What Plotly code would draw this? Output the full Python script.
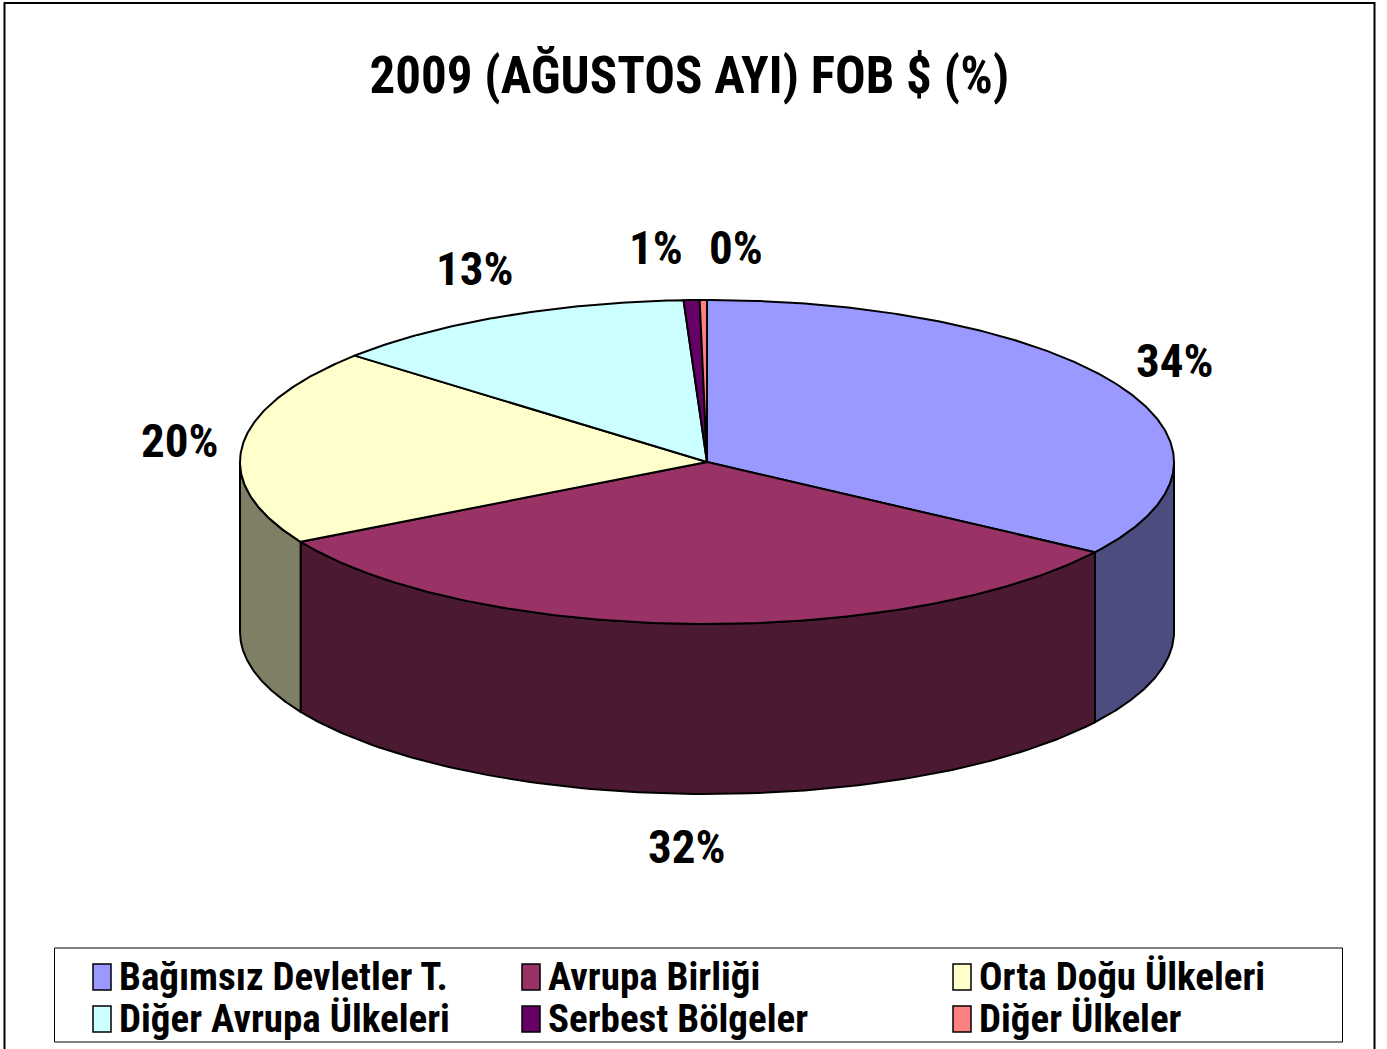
import numpy as np
import plotly.graph_objects as go

# ---------------- data ----------------
categories = ["Bağımsız Devletler T.", "Avrupa Birliği", "Orta Doğu Ülkeleri",
              "Diğer Avrupa Ülkeleri", "Serbest Bölgeler", "Diğer Ülkeler"]
shares = [34.4, 32.4, 19.6, 12.8, 0.55, 0.25]
top_colors = ["#9999FF", "#993366", "#FFFFCC", "#CCFFFF", "#660066", "#FF8080"]
title_text = "2009 (AĞUSTOS AYI) FOB $ (%)"

# ---------------- layout constants ----------------
W, H = 1387, 1049
CX, CY = 707, 462          # centre of the top face
RX, RY = 467, 162          # ellipse radii
DEPTH = 170                # thickness of the 3-D pie
LA, LB = 530, 215          # label ellipse
FONT = "Roboto Condensed, Liberation Sans Narrow, Arial Narrow, sans-serif"


def darken(hx, f=0.5):
    hx = hx.lstrip("#")
    r, g, b = (int(hx[i:i + 2], 16) for i in (0, 2, 4))
    return "#%02X%02X%02X" % (int(r * f), int(g * f), int(b * f))


def pt(theta_deg, dz=0.0):
    t = np.radians(theta_deg)
    return CX + RX * np.sin(t), CY - RY * np.cos(t) + dz


total = float(sum(shares))
fracs = [v / total for v in shares]
starts = np.concatenate([[0.0], np.cumsum(fracs)[:-1]]) * 360.0
ends = np.cumsum(fracs) * 360.0

fig = go.Figure()

# side walls (front half only: 90..270 deg measured clockwise from top)
for a, b, col in zip(starts, ends, top_colors):
    lo, hi = max(a, 90.0), min(b, 270.0)
    if lo >= hi:
        continue
    th = np.linspace(lo, hi, 120)
    xt, yt = pt(th)
    xb, yb = pt(th[::-1], DEPTH)
    xs = np.concatenate([xt, xb, xt[:1]])
    ys = np.concatenate([yt, yb, yt[:1]])
    fig.add_trace(go.Scatter(x=xs, y=ys, mode="lines", fill="toself",
                             fillcolor=darken(col), line=dict(color="black", width=2),
                             hoverinfo="skip", showlegend=False))

# top faces
for a, b, col, name in zip(starts, ends, top_colors, categories):
    n = max(4, int((b - a) * 2))
    th = np.linspace(a, b, n)
    xa, ya = pt(th)
    xs = np.concatenate([[CX], xa, [CX]])
    ys = np.concatenate([[CY], ya, [CY]])
    fig.add_trace(go.Scatter(x=xs, y=ys, mode="lines", fill="toself",
                             fillcolor=col, line=dict(color="black", width=2),
                             name=name, hoverinfo="skip", showlegend=False))

# percentage labels
labels = []
for a, b, f in zip(starts, ends, fracs):
    m = np.radians((a + b) / 2)
    lx = CX + LA * np.sin(m)
    ly = CY - LB * np.cos(m) + DEPTH * max(0.0, -np.cos(m))
    labels.append([lx, ly, "%d%%" % round(f * 100)])
for i in range(len(labels)):
    for j in range(i + 1, len(labels)):
        if abs(labels[i][1] - labels[j][1]) < 45 and abs(labels[i][0] - labels[j][0]) < 80:
            mid = (labels[i][0] + labels[j][0]) / 2
            s = 1 if labels[j][0] >= labels[i][0] else -1
            labels[i][0] = mid - 40 * s
            labels[j][0] = mid + 40 * s

annotations = []
for lx, ly, txt in labels:
    annotations.append(dict(x=lx, y=ly, xref="x", yref="y", text=txt, showarrow=False,
                            xanchor="center", yanchor="middle",
                            font=dict(family=FONT, size=47, color="black", weight="bold")))

# legend (manual, to reproduce the boxed 3-column layout)
shapes = [
    dict(type="rect", xref="x", yref="y", x0=4.5, y0=3, x1=1374.5, y1=1070,
         line=dict(color="black", width=2), layer="below"),
    dict(type="rect", xref="x", yref="y", x0=54.5, y0=948, x1=1342.5, y1=1042,
         line=dict(color="black", width=1), fillcolor="white", layer="below"),
]
col_left = [93, 522, 953]
row_y = [977, 1019]
for i, (name, col) in enumerate(zip(categories, top_colors)):
    x0 = col_left[i % 3]
    y = row_y[i // 3]
    shapes.append(dict(type="rect", xref="x", yref="y", x0=x0, x1=x0 + 18,
                       y0=y - 13, y1=y + 13, fillcolor=col,
                       line=dict(color="black", width=1.5)))
    annotations.append(dict(x=x0 + 24, y=y, xref="x", yref="y", text=name, showarrow=False,
                            xanchor="left", yanchor="middle",
                            font=dict(family=FONT, size=39, color="black", weight="bold")))

fig.update_layout(
    width=W, height=H,
    margin=dict(l=0, r=0, t=0, b=0),
    paper_bgcolor="white", plot_bgcolor="white",
    title=dict(text=title_text, x=0.497, xanchor="center", y=1 - 75 / H, yanchor="middle",
               font=dict(family=FONT, size=51, color="black", weight="bold")),
    xaxis=dict(range=[0, W], visible=False, fixedrange=True),
    yaxis=dict(range=[H, 0], visible=False, fixedrange=True),
    shapes=shapes,
    annotations=annotations,
    showlegend=False,
)

fig.write_html("out.html", config={"displayModeBar": False},
               post_script="document.body.style.margin='0';")
